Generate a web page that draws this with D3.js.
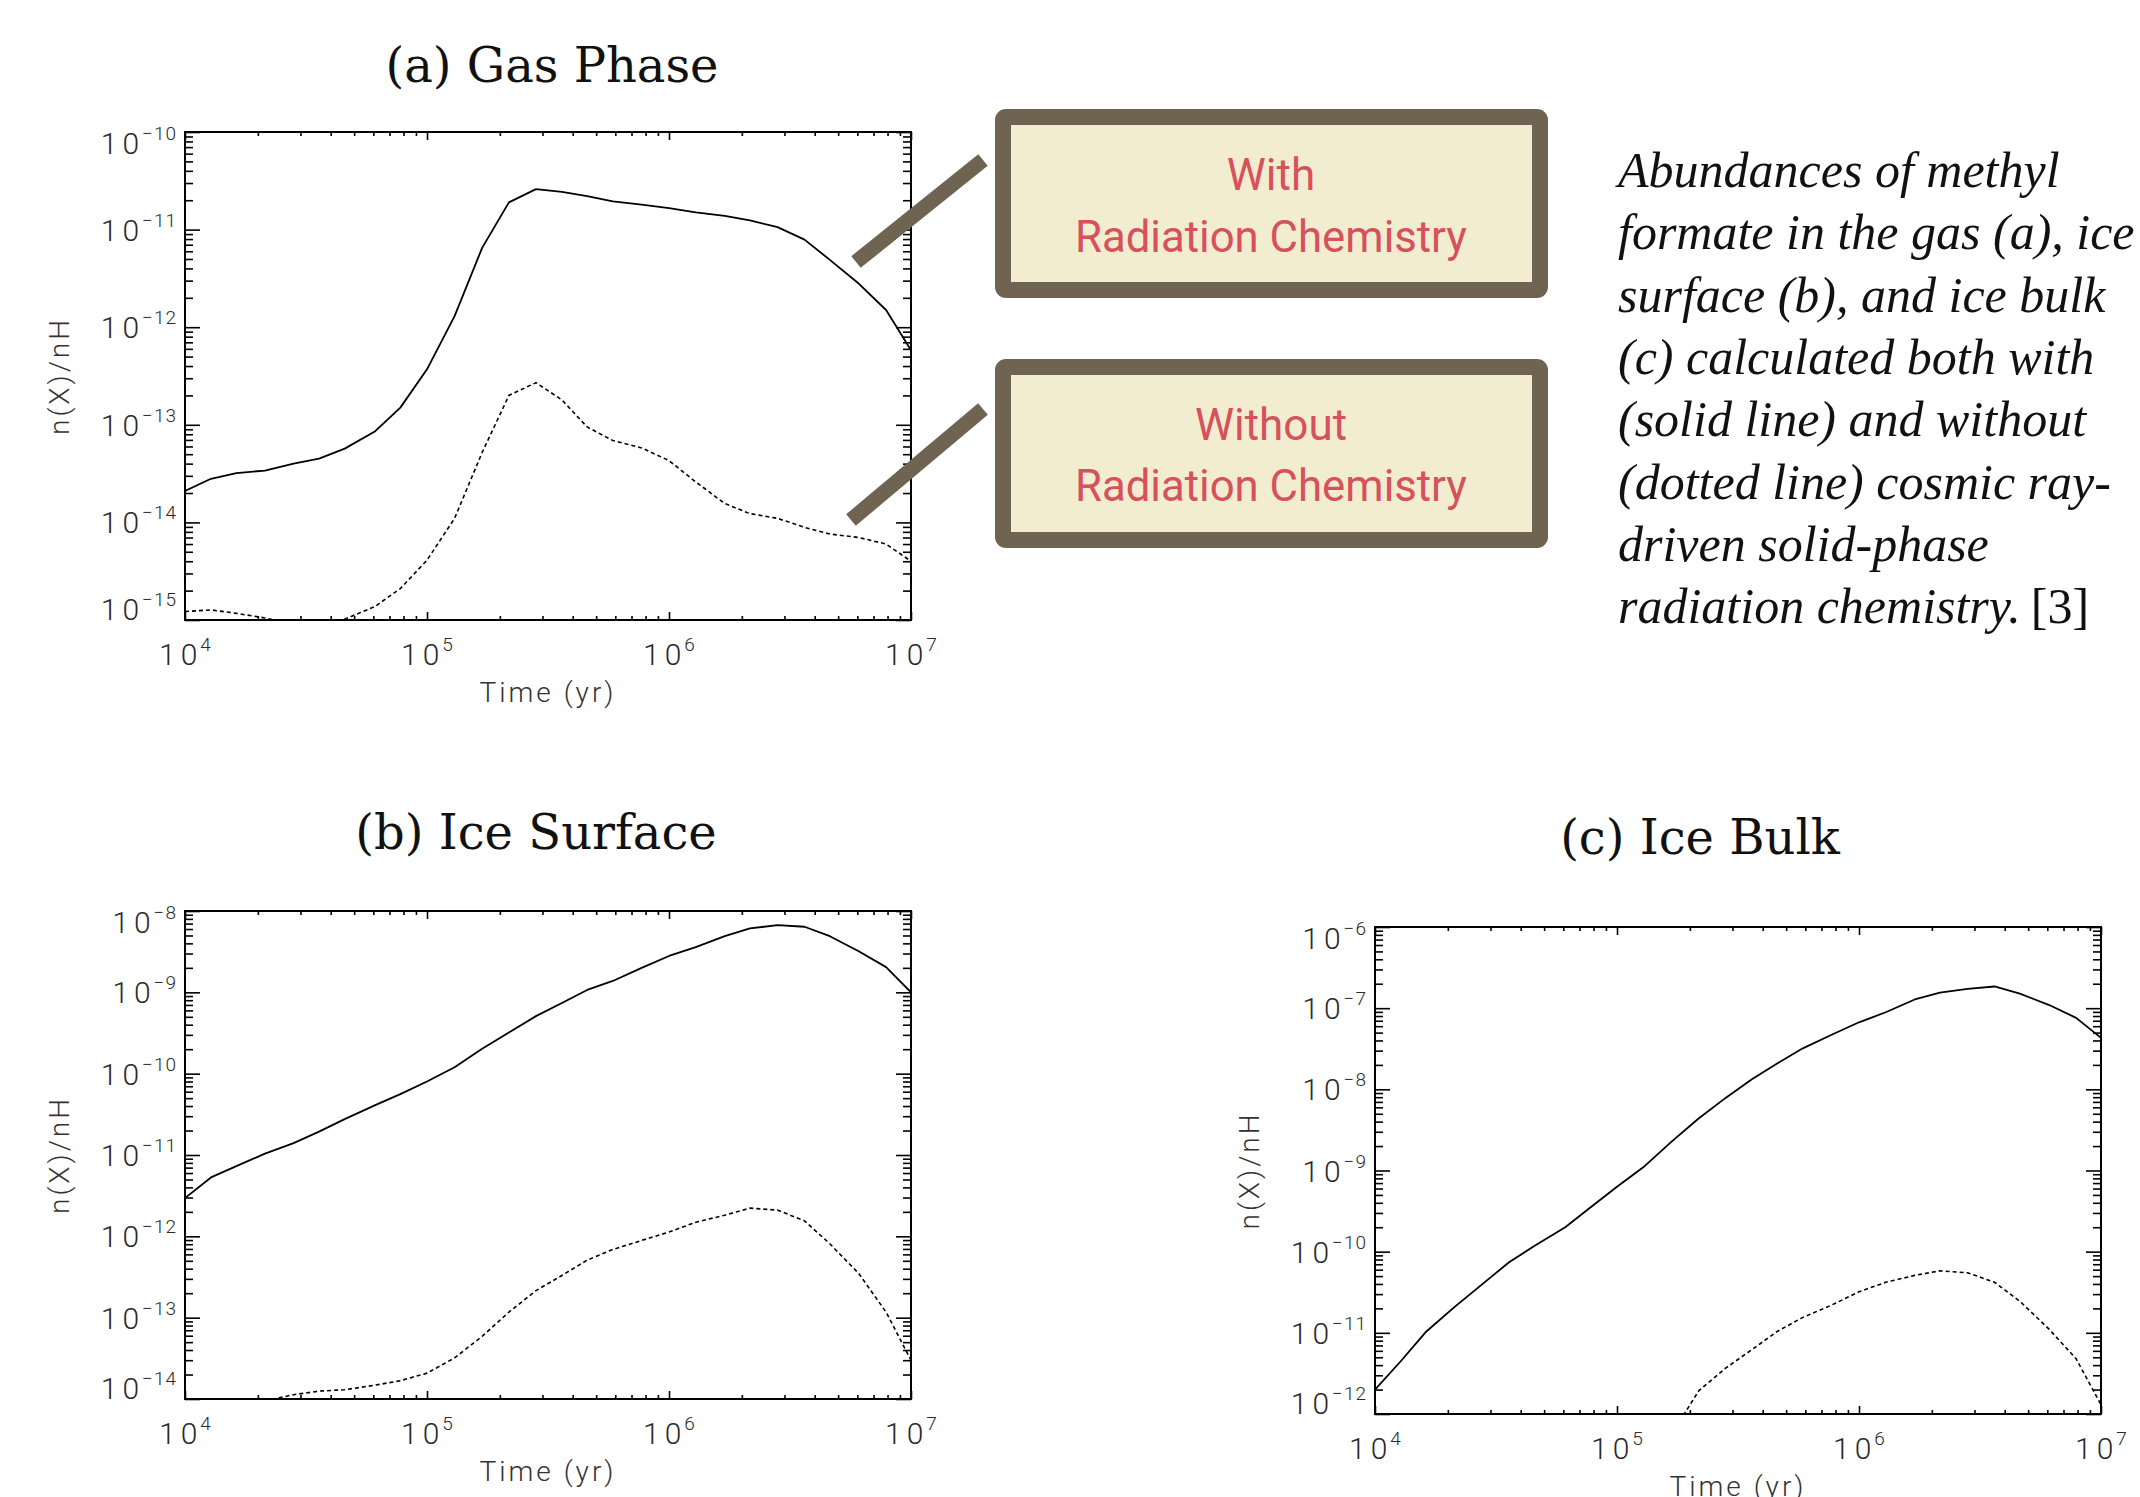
<!DOCTYPE html>
<html>
<head>
<meta charset="utf-8">
<script src="https://cdn.jsdelivr.net/npm/d3@7"></script>
<style>
  html, body { margin: 0; padding: 0; background: #fff; }
  svg { display: block; }
</style>
</head>
<body>
<svg id="chart" width="2140" height="1497"></svg>
<script>
// model output times (yr), same grid for all three panels
const modelTime = [1.0e4, 1.28e4, 1.63e4, 2.14e4, 2.81e4, 3.58e4, 4.57e4, 6.11e4, 7.76e4,
  1.0e5, 1.30e5, 1.69e5, 2.18e5, 2.82e5, 3.61e5, 4.59e5, 5.86e5, 7.71e5,
  1.0e6, 1.29e6, 1.70e6, 2.16e6, 2.81e6, 3.63e6, 4.62e6, 6.08e6, 7.89e6, 1.0e7];

// (a) gas phase
const gasWith = [2.1e-14, 2.8e-14, 3.2e-14, 3.4e-14, 4.0e-14, 4.5e-14, 5.7e-14, 8.6e-14, 1.5e-13,
  3.7e-13, 1.3e-12, 6.5e-12, 1.9e-11, 2.6e-11, 2.43e-11, 2.2e-11, 1.95e-11, 1.8e-11,
  1.66e-11, 1.5e-11, 1.38e-11, 1.24e-11, 1.06e-11, 7.9e-12, 4.9e-12, 2.8e-12, 1.5e-12, 5.8e-13];
const gasWithout = [1.22e-15, 1.27e-15, 1.17e-15, 1.05e-15, 9.0e-16, 9.2e-16, 1.02e-15, 1.38e-15, 2.1e-15,
  4.1e-15, 1.1e-14, 5.2e-14, 2.0e-13, 2.7e-13, 1.8e-13, 9.5e-14, 6.9e-14, 5.8e-14,
  4.3e-14, 2.6e-14, 1.56e-14, 1.23e-14, 1.1e-14, 8.9e-15, 7.6e-15, 7.0e-15, 6.0e-15, 4.0e-15];

// (b) ice surface
const surfWith = [2.95e-12, 5.3e-12, 7.3e-12, 1.04e-11, 1.4e-11, 1.94e-11, 2.76e-11, 4.1e-11, 5.6e-11,
  8.0e-11, 1.2e-10, 2.03e-10, 3.2e-10, 5.1e-10, 7.4e-10, 1.07e-9, 1.38e-9, 2.0e-9,
  2.8e-9, 3.6e-9, 4.9e-9, 6.1e-9, 6.7e-9, 6.4e-9, 4.9e-9, 3.2e-9, 2.04e-9, 1.0e-9];
const surfWithout = [null, null, null, 9.5e-15, 1.13e-14, 1.25e-14, 1.3e-14, 1.48e-14, 1.68e-14,
  2.08e-14, 3.2e-14, 5.9e-14, 1.17e-13, 2.15e-13, 3.3e-13, 5.1e-13, 6.9e-13, 8.9e-13,
  1.13e-12, 1.49e-12, 1.82e-12, 2.22e-12, 2.1e-12, 1.55e-12, 8.1e-13, 3.5e-13, 1.17e-13, 3.0e-14];

// (c) ice bulk
const bulkWith = [2.0e-12, 4.5e-12, 1.04e-11, 2.1e-11, 4.1e-11, 7.4e-11, 1.18e-10, 2.0e-10, 3.5e-10,
  6.3e-10, 1.13e-9, 2.3e-9, 4.4e-9, 7.9e-9, 1.33e-8, 2.08e-8, 3.2e-8, 4.7e-8,
  6.7e-8, 8.9e-8, 1.28e-7, 1.55e-7, 1.73e-7, 1.85e-7, 1.51e-7, 1.1e-7, 7.6e-8, 4.3e-8];
const bulkWithout = [null, null, null, null, null, null, null, null, null,
  null, null, 5.8e-13, 1.94e-12, 3.7e-12, 6.2e-12, 1.04e-11, 1.55e-11, 2.2e-11,
  3.2e-11, 4.2e-11, 5.1e-11, 5.8e-11, 5.5e-11, 4.2e-11, 2.45e-11, 1.12e-11, 4.8e-12, 1.3e-12];

const timeDomain = [1e4, 1e7];
const panelTitles = ['(a) Gas Phase', '(b) Ice Surface', '(c) Ice Bulk'];
const xLabel = 'Time (yr)';
const yLabel = 'n(X)/nH';
const boxLabels = [['With', 'Radiation Chemistry'], ['Without', 'Radiation Chemistry']];
const captionLines = [
  'Abundances of methyl',
  'formate in the gas (a), ice',
  'surface (b), and ice bulk',
  '(c) calculated both with',
  '(solid line) and without',
  '(dotted line) cosmic ray-',
  'driven solid-phase',
  'radiation chemistry.'
];
const captionRef = '[3]';

const LABEL_FONT = 'Roboto, "Liberation Sans", sans-serif';
const BROWN = '#6f6352';

const svg = d3.select('#chart');
svg.append('rect').attr('width', 2140).attr('height', 1497).attr('fill', '#fff');

const panels = [
  { title: panelTitles[0], left: 185, top: 132, w: 726, h: 488, yDomain: [1e-15, 1e-10], titleX: 552, titleY: 82, solid: gasWith, dashed: gasWithout },
  { title: panelTitles[1], left: 185, top: 911, w: 726, h: 488, yDomain: [1e-14, 1e-8], titleX: 536, titleY: 849, solid: surfWith, dashed: surfWithout },
  { title: panelTitles[2], left: 1375, top: 927, w: 726, h: 487, yDomain: [1e-12, 1e-6], titleX: 1700, titleY: 854, solid: bulkWith, dashed: bulkWithout }
];

const isMajor = v => Math.abs(Math.log10(v) - Math.round(Math.log10(v))) < 1e-6;

// "10" with superscript exponent
function powerLabel(sel) {
  sel.each(function (v) {
    const e = Math.round(Math.log10(v));
    const t = d3.select(this).text(null);
    t.append('tspan').attr('letter-spacing', 5).text('10');
    t.append('tspan').attr('font-size', 19).attr('dx', -2).attr('dy', -14)
      .attr('letter-spacing', 1)
      .text(e < 0 ? '\u2212' + (-e) : String(e));
  });
}

function styleAxis(g) {
  g.select('.domain').remove();
  g.selectAll('.tick line').attr('stroke', '#000').attr('stroke-width', 1.6);
}

function drawPanel(p, i) {
  const x = d3.scaleLog().domain(timeDomain).range([0, p.w]);
  const y = d3.scaleLog().domain(p.yDomain).range([p.h, 0]);
  const xMajor = x.ticks().filter(isMajor), xMinor = x.ticks().filter(v => !isMajor(v));
  const yMajor = y.ticks().filter(isMajor), yMinor = y.ticks().filter(v => !isMajor(v));

  svg.append('text')
    .attr('x', p.titleX).attr('y', p.titleY)
    .attr('text-anchor', 'middle')
    .attr('font-family', '"DejaVu Serif", serif')
    .attr('font-size', 48)
    .attr('fill', '#111')
    .text(p.title);

  const g = svg.append('g').attr('transform', `translate(${p.left},${p.top})`);

  // minor ticks, all four sides, pointing inward
  g.append('g').attr('transform', `translate(0,${p.h})`)
    .call(d3.axisBottom(x).tickValues(xMinor).tickSize(-4).tickFormat('')).call(styleAxis);
  g.append('g')
    .call(d3.axisTop(x).tickValues(xMinor).tickSize(-4).tickFormat('')).call(styleAxis);
  g.append('g')
    .call(d3.axisLeft(y).tickValues(yMinor).tickSize(-8).tickFormat('')).call(styleAxis);
  g.append('g').attr('transform', `translate(${p.w},0)`)
    .call(d3.axisRight(y).tickValues(yMinor).tickSize(-8).tickFormat('')).call(styleAxis);

  // major ticks
  g.append('g').attr('transform', `translate(0,${p.h})`)
    .call(d3.axisBottom(x).tickValues(xMajor).tickSize(-8))
    .call(styleAxis)
    .call(ax => ax.selectAll('.tick text')
      .attr('y', 45).attr('dy', null)
      .attr('font-family', LABEL_FONT).attr('font-weight', 300)
      .attr('font-size', 30).attr('fill', '#2a2a2a')
      .call(powerLabel));
  g.append('g')
    .call(d3.axisTop(x).tickValues(xMajor).tickSize(-8).tickFormat('')).call(styleAxis);
  g.append('g')
    .call(d3.axisLeft(y).tickValues(yMajor).tickSize(-15))
    .call(styleAxis)
    .call(ax => ax.selectAll('.tick text')
      .attr('x', -8).attr('dy', null)
      .attr('y', v => {
        const ty = y(v);
        return Math.max(11, Math.min(p.h - 11, ty)) - ty + 10.5;
      })
      .attr('font-family', LABEL_FONT).attr('font-weight', 300)
      .attr('font-size', 30).attr('fill', '#2a2a2a')
      .call(powerLabel));
  g.append('g').attr('transform', `translate(${p.w},0)`)
    .call(d3.axisRight(y).tickValues(yMajor).tickSize(-15).tickFormat('')).call(styleAxis);

  // frame
  g.append('rect')
    .attr('width', p.w).attr('height', p.h)
    .attr('fill', 'none').attr('stroke', '#000').attr('stroke-width', 2);

  // axis titles
  g.append('text')
    .attr('x', p.w / 2).attr('y', p.h + 82)
    .attr('text-anchor', 'middle')
    .attr('font-family', LABEL_FONT).attr('font-weight', 300)
    .attr('font-size', 28).attr('letter-spacing', 3).attr('fill', '#333')
    .text(xLabel);
  g.append('text')
    .attr('transform', `translate(-126,${p.h / 2}) rotate(-90)`)
    .attr('text-anchor', 'middle').attr('dy', '0.35em')
    .attr('font-family', LABEL_FONT).attr('font-weight', 300)
    .attr('font-size', 28).attr('letter-spacing', 3).attr('fill', '#333')
    .text(yLabel);

  // curves
  g.append('clipPath').attr('id', 'clip' + i)
    .append('rect').attr('width', p.w).attr('height', p.h);

  const line = d3.line()
    .defined(d => d[1] != null)
    .x(d => x(d[0]))
    .y(d => y(d[1]));

  const plot = g.append('g').attr('clip-path', `url(#clip${i})`);
  plot.append('path')
    .datum(d3.zip(modelTime, p.solid))
    .attr('fill', 'none').attr('stroke', '#000').attr('stroke-width', 1.8)
    .attr('stroke-linejoin', 'round')
    .attr('d', line);
  plot.append('path')
    .datum(d3.zip(modelTime, p.dashed))
    .attr('fill', 'none').attr('stroke', '#000').attr('stroke-width', 1.6)
    .attr('stroke-dasharray', '4,3')
    .attr('d', line);
}

panels.forEach(drawPanel);

// callout boxes
const boxes = [
  { top: 109, line: [[856, 262], [983, 160]], baselines: [190, 252] },
  { top: 359, line: [[851, 520], [983, 409]], baselines: [440, 501] }
];

boxes.forEach((b, i) => {
  svg.append('line')
    .attr('x1', b.line[0][0]).attr('y1', b.line[0][1])
    .attr('x2', b.line[1][0]).attr('y2', b.line[1][1])
    .attr('stroke', BROWN).attr('stroke-width', 15);

  svg.append('rect')
    .attr('x', 1003).attr('y', b.top + 8)
    .attr('width', 537).attr('height', 173)
    .attr('rx', 3)
    .attr('fill', '#f2ecd0')
    .attr('stroke', BROWN).attr('stroke-width', 16);

  boxLabels[i].forEach((txt, k) => {
    const t = svg.append('text')
      .attr('x', 1271).attr('y', b.baselines[k])
      .attr('text-anchor', 'middle')
      .attr('font-family', 'Roboto, "Noto Sans", sans-serif')
      .attr('font-size', 44)
      .attr('fill', '#d6515a')
      .text(txt);
    if (k === 1) t.attr('textLength', 392).attr('lengthAdjust', 'spacingAndGlyphs');
  });
});

// caption
const caption = svg.append('g')
  .attr('font-family', '"Liberation Serif", "Times New Roman", serif')
  .attr('font-size', 50)
  .attr('fill', '#111');

captionLines.forEach((txt, i) => {
  const t = caption.append('text')
    .attr('x', 1618).attr('y', 187 + i * 62.3);
  t.append('tspan').attr('font-style', 'italic').text(txt);
  if (i === captionLines.length - 1) {
    t.append('tspan').attr('dx', 10).text(captionRef);
  }
});
</script>
</body>
</html>
